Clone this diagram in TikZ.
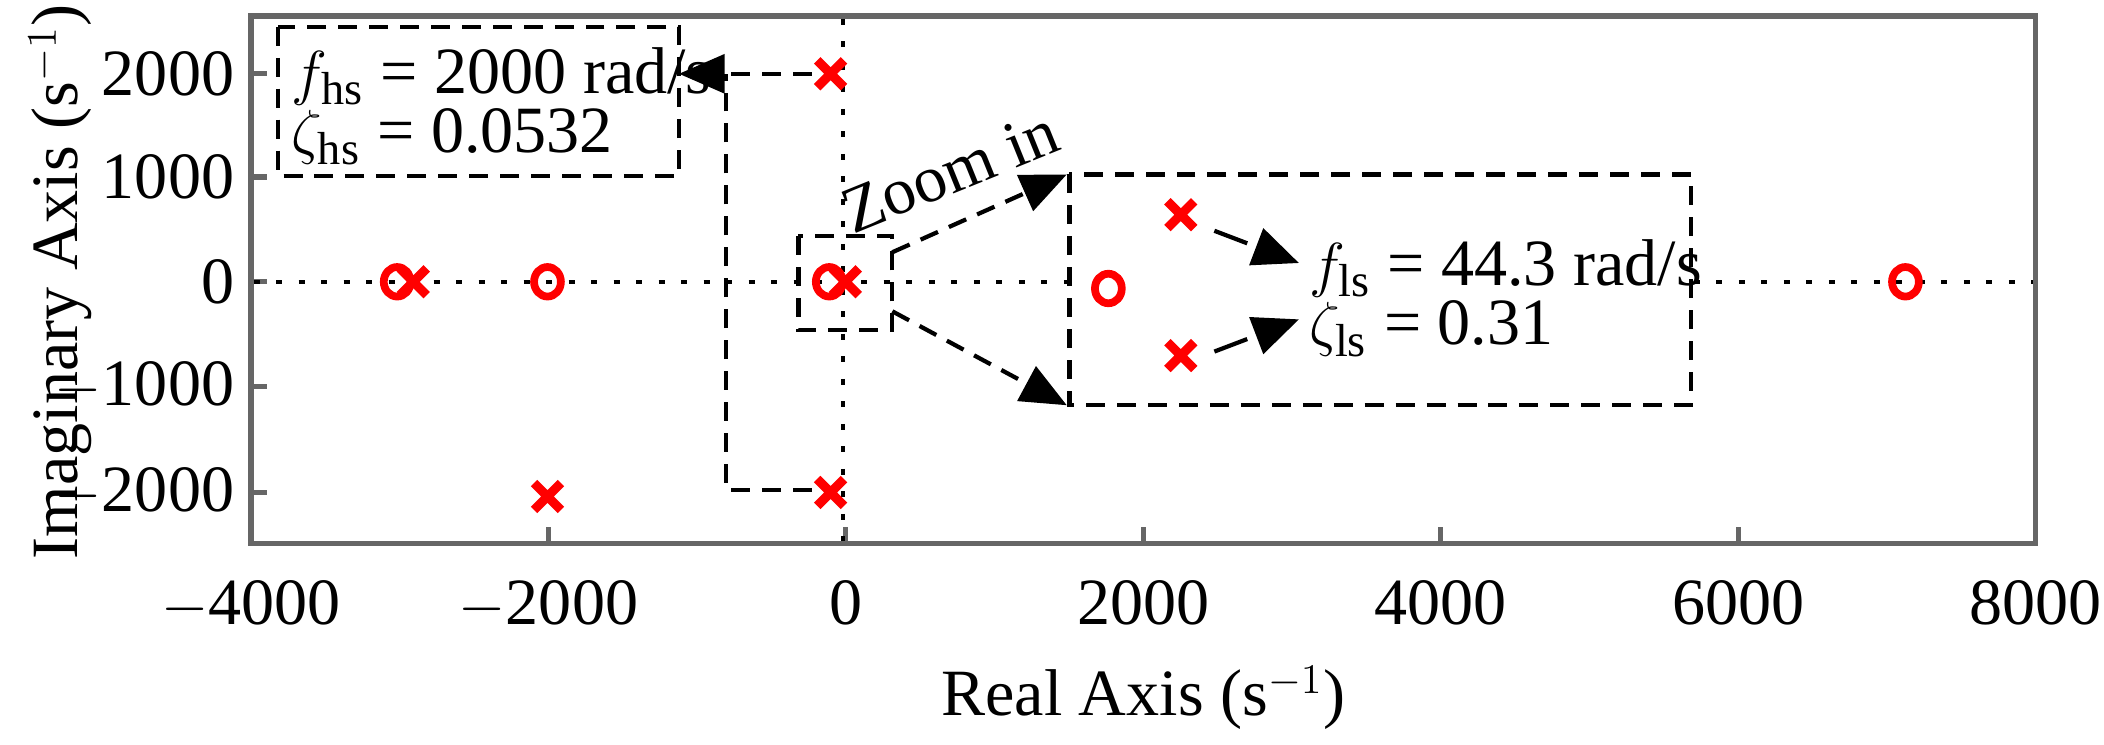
\documentclass[tikz,border=0pt]{standalone}
\usepackage{fontspec}
\setmainfont{Liberation Serif}
\usetikzlibrary{arrows.meta}
\begin{document}
\begin{tikzpicture}[x=0.013418cm,y=-0.013418cm,font=\fontsize{18.8}{21}\selectfont,
  frame/.style={draw=black!60,line width=1.5pt},
  dl/.style={draw,line width=1.2pt,dash pattern=on 5.4pt off 3.4pt},
  dt/.style={draw,line width=1.2pt,dash pattern=on 1.7pt off 4.7pt},
  arr/.style={-{Triangle[length=13pt,width=11pt]}},
  crs/.style={draw=red,line width=2.6pt},
  circ/.style={draw=red,line width=2.2pt},
  lab/.style={inner sep=0pt,anchor=west}]
\useasboundingbox (0,0) rectangle (1568,554.5);
% frame
\draw[frame] (187,12) rectangle (1517,405);
\foreach \y/\t in {55/2000,132/1000,210/0,288/{$-$1000},367/{$-$2000}}{
  \draw[frame] (187,\y) -- (199,\y);
  \node[anchor=east,inner sep=0pt] at (175,\y) {\t};}
\foreach \i/\t in {0/{$-$4000},1/{$-$2000},2/0,3/2000,4/4000,5/6000,6/8000}{
  \pgfmathsetmacro\xx{187+221.67*\i}
  \draw[frame] (\xx,405) -- (\xx,393);
  \node[anchor=north,inner sep=0pt] at (\xx,432) {\t};}
\node[inner sep=0pt] (xl) at (852,520) {Real Axis (s$^{-1}$)};
\node[inner sep=0pt,rotate=90] (yl) at (45,210) {Imaginary Axis (s$^{-1}$)};
% dotted axes
\draw[dt] (189,210) -- (1515,210);
\draw[dt] (628,14) -- (628,403);
% hs box
\draw[dl,fill=white] (207,20) rectangle (506,131);
\coordinate (hsr) at (506,55);
\node[lab] (fhs) at (217,57) {$f_{\mathrm{hs}}$ = 2000 rad/s};
\node[lab] (zhs) at (217,102) {$\zeta_{\mathrm{hs}}$ = 0.0532};
\coordinate (c1) at (541,55);
\coordinate (c2) at (541,365);
\coordinate (p1) at (605,55);
\coordinate (p2) at (605,365);
\draw[dl,arr] (p1) -- (hsr);
\draw[dl] (p2) -- (c2) -- (c1);
% small zoom box
\draw[dl] (595,176) rectangle (665,246);
\coordinate (s1) at (665,188);
\coordinate (s2) at (665,232);
% big zoom box
\draw[dl,fill=white] (797,130) rectangle (1260,302);
\coordinate (b1) at (795,130);
\coordinate (b2) at (795,302);
\draw[dl,arr] (s1) -- (b1);
\draw[dl,arr] (s2) -- (b2);
\node[rotate=22,inner sep=0pt] (zi) at (708,128) {Zoom in};
% markers
\foreach \n/\x/\y in {m1/619/55,m2/619/367,m3/408/370,m4/308/210,m5/630/210,m6/880/160,m7/880/265}{
  \coordinate (\n) at (\x,\y);
  \draw[crs] (\x-10,\y-10) -- (\x+10,\y+10) (\x-10,\y+10) -- (\x+10,\y-10);}
\foreach \x/\y in {296/210,408/210,1420/210,618/210,826/215}{
  \draw[circ] (\x,\y) ellipse (10 and 11);}
% ls
\node[lab] (fls) at (975,200) {$f_{\mathrm{ls}}$ = 44.3 rad/s};
\node[lab] (zls) at (975,245) {$\zeta_{\mathrm{ls}}$ = 0.31};
\draw[dl,arr,dash pattern=on 10pt off 5pt] (905,172) -- (968,196);
\draw[dl,arr,dash pattern=on 10pt off 5pt] (905,262) -- (968,238);
\end{tikzpicture}
\end{document}
